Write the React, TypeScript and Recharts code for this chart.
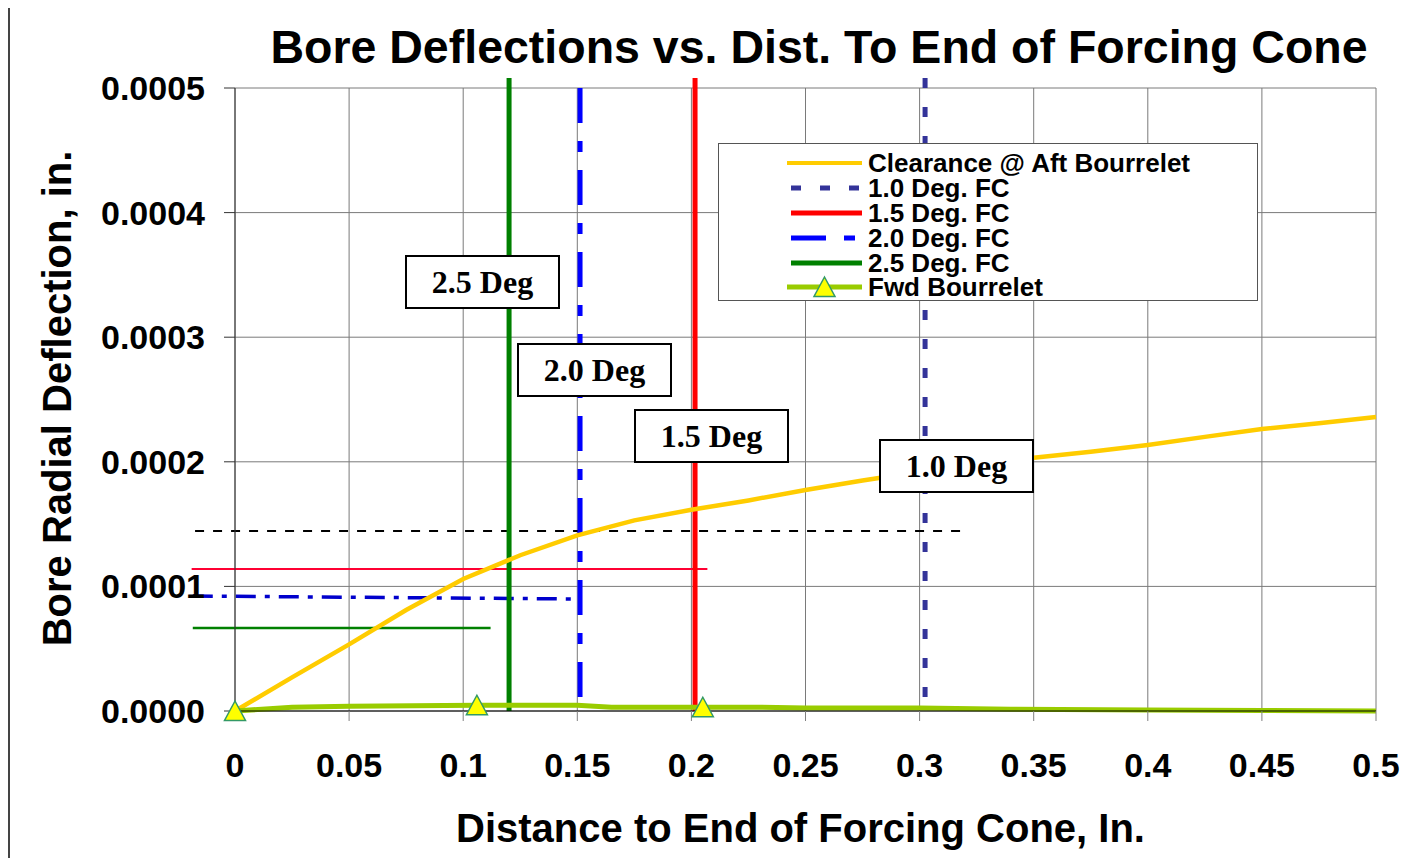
import { ComposedChart, Line, XAxis, YAxis, CartesianGrid, ReferenceLine, Legend } from 'recharts';

// axis ticks
const xTicks = [0, 0.05, 0.1, 0.15, 0.2, 0.25, 0.3, 0.35, 0.4, 0.45, 0.5];
const yTicks = [0, 0.0001, 0.0002, 0.0003, 0.0004, 0.0005];

// Clearance @ Aft Bourrelet
const aftX = [0, 0.025, 0.05, 0.075, 0.1, 0.125, 0.15, 0.175, 0.2, 0.225, 0.25, 0.275, 0.3, 0.325, 0.35, 0.375, 0.4, 0.425, 0.45, 0.475, 0.5];
const aftClearance = [0, 0.000027, 0.0000535, 0.000081, 0.000106, 0.000125, 0.000141, 0.000153, 0.0001615, 0.000169, 0.0001774, 0.000185, 0.000192, 0.000198, 0.0002033, 0.000208, 0.0002135, 0.00022, 0.0002263, 0.000231, 0.000236];

// Fwd Bourrelet
const fwdX = [0, 0.025, 0.05, 0.106, 0.15, 0.165, 0.205, 0.23, 0.25, 0.3, 0.34, 0.4, 0.45, 0.5];
const fwdBourrelet = [0, 0.000003, 0.0000038, 0.0000046, 0.0000046, 0.000003, 0.000003, 0.000003, 0.0000024, 0.0000024, 0.0000014, 0.0000008, 0.0000004, 0];
const fwdMarkerX = [0, 0.106, 0.205];

// forcing cone angle lines (vertical)
const fcAngles = ['1.0', '1.5', '2.0', '2.5'];
const fcX = [0.3024, 0.2016, 0.1512, 0.1201];
const fcTop = [0.000508, 0.000508, 0.0005, 0.000508];

// horizontal reference levels: clearance, 1.5, 2.0, 2.5
const levelStartX = [-0.0175, -0.019, -0.0185, -0.0185];
const levelEndX = [0.319, 0.207, 0.151, 0.112];
const levelStartY = [0.0001445, 0.000114, 0.0000923, 0.0000666];
const levelEndY = [0.0001445, 0.000114, 0.0000899, 0.0000666];

const fcStyle: Record<string, { stroke: string; dash?: string }> = {
  '1.0': { stroke: '#333399', dash: '10 19' },
  '1.5': { stroke: '#FF0000' },
  '2.0': { stroke: '#0000FF', dash: '35 18 11 18' },
  '2.5': { stroke: '#008000' },
};
const levelStyle = [
  { stroke: '#000000', width: 2, dash: '9 9' },
  { stroke: '#FF0033', width: 2 },
  { stroke: '#0000CC', width: 3.5, dash: '20 9 5 9' },
  { stroke: '#008000', width: 2.5 },
];

const degBoxes = [
  { text: '2.5 Deg', left: 397, top: 250 },
  { text: '2.0 Deg', left: 509, top: 338 },
  { text: '1.5 Deg', left: 626, top: 404 },
  { text: '1.0 Deg', left: 871, top: 434 },
];

const aftData = aftX.map((x, i) => ({ x, y: aftClearance[i] }));
const fwdData = fwdX.map((x, i) => ({ x, y: fwdBourrelet[i] }));

const SANS = '"Liberation Sans", Arial, sans-serif';
const SERIF = '"Liberation Serif", "Times New Roman", serif';

function triangle(cx: number, cy: number, key?: number) {
  return (
    <path
      key={key}
      d={`M${cx},${cy - 10} L${cx + 10.5},${cy + 9.5} L${cx - 10.5},${cy + 9.5} Z`}
      fill="#FFFF00"
      stroke="#339966"
      strokeWidth={1.5}
    />
  );
}

const fwdDot = (props: any) => {
  const { cx, cy, payload, index } = props;
  if (!fwdMarkerX.includes(payload.x)) return <g key={index} />;
  return triangle(cx, cy, index);
};

function LegendSample({ name }: { name: string }) {
  let line;
  if (name.startsWith('Clearance')) line = <line x1={0} x2={75} y1={12} y2={12} stroke="#FFCC00" strokeWidth={4} />;
  else if (name.startsWith('Fwd'))
    line = (
      <>
        <line x1={0} x2={75} y1={12} y2={12} stroke="#99CC00" strokeWidth={5} />
        {triangle(37.5, 12)}
      </>
    );
  else {
    const s = fcStyle[name.slice(0, 3)];
    line = <line x1={4} x2={75} y1={12} y2={12} stroke={s.stroke} strokeWidth={5} strokeDasharray={s.dash} />;
  }
  return (
    <svg width={76} height={24} style={{ overflow: 'visible' }}>
      {line}
    </svg>
  );
}

const legendNames = ['Clearance @ Aft Bourrelet', ...fcAngles.map((a) => `${a} Deg. FC`), 'Fwd Bourrelet'];

function LegendBox() {
  return (
    <div
      style={{
        boxSizing: 'border-box',
        width: 540,
        height: 158,
        border: '1.5px solid #555',
        background: '#fff',
        paddingTop: 7,
      }}
    >
      {legendNames.map((n) => (
        <div key={n} style={{ display: 'flex', alignItems: 'center', height: 24.8, paddingLeft: 68 }}>
          <LegendSample name={n} />
          <span
            style={{
              marginLeft: 5,
              fontFamily: SANS,
              fontWeight: 'bold',
              fontSize: 26,
              lineHeight: '24px',
              color: '#000',
              whiteSpace: 'nowrap',
            }}
          >
            {n}
          </span>
        </div>
      ))}
    </div>
  );
}

export default function App() {
  return (
    <div
      style={{
        position: 'relative',
        width: 1400,
        height: 853,
        marginTop: -3,
        overflow: 'hidden',
        background: '#fff',
      }}
    >
      <style>{'body{overflow:hidden}'}</style>
      <div
        style={{
          position: 'absolute',
          left: 0,
          top: 0,
          width: 1440,
          height: 900,
          borderLeft: '2px solid #444',
          borderTop: '2px solid #444',
        }}
      />
      <div style={{ position: 'absolute', left: 0, top: 0 }}>
        <ComposedChart width={1400} height={853} margin={{ top: 83, right: 32, left: 27, bottom: 87 }}>
          <CartesianGrid stroke="#7a7a7a" strokeWidth={1} />
          <XAxis
            dataKey="x"
            type="number"
            domain={[0, 0.5]}
            ticks={xTicks}
            tickFormatter={(v: number) => String(v)}
            stroke="#000"
            tickLine={{ stroke: '#808080' }}
            tickSize={10}
            tickMargin={32}
            height={60}
            tick={{ fontSize: 34, fontWeight: 'bold', fill: '#000', fontFamily: SANS }}
            label={{
              content: (p: any) => (
                <text
                  x={p.viewBox.x + p.viewBox.width / 2 - 5}
                  y={p.viewBox.y + 131}
                  textAnchor="middle"
                  fontFamily={SANS}
                  fontWeight="bold"
                  fontSize={40}
                  fill="#000"
                >
                  Distance to End of Forcing Cone, In.
                </text>
              ),
            }}
          />
          <YAxis
            type="number"
            domain={[0, 0.0005]}
            ticks={yTicks}
            tickFormatter={(v: number) => v.toFixed(4)}
            width={200}
            stroke="#333"
            tickSize={11}
            tickMargin={19}
            tick={{ fontSize: 34, fontWeight: 'bold', fill: '#000', fontFamily: SANS }}
            label={{
              content: (p: any) => {
                const cx = p.viewBox.x + 22;
                const cy = p.viewBox.y + p.viewBox.height / 2 - 1;
                return (
                  <text
                    x={cx}
                    y={cy}
                    transform={`rotate(-90, ${cx}, ${cy})`}
                    textAnchor="middle"
                    dominantBaseline="central"
                    fontFamily={SANS}
                    fontWeight="bold"
                    fontSize={40}
                    fill="#000"
                  >
                    Bore Radial Deflection, in.
                  </text>
                );
              },
            }}
          />
          <Legend
            layout="vertical"
            align="center"
            verticalAlign="middle"
            wrapperStyle={{ left: 710, top: 138, width: 540, height: 158 }}
            content={() => <LegendBox />}
          />
          {levelStartX.map((x0, i) => (
            <ReferenceLine
              key={`lvl${i}`}
              segment={[
                { x: x0, y: levelStartY[i] },
                { x: levelEndX[i], y: levelEndY[i] },
              ]}
              ifOverflow="visible"
              stroke={levelStyle[i].stroke}
              strokeWidth={levelStyle[i].width}
              strokeDasharray={levelStyle[i].dash}
            />
          ))}
          {fcAngles.map((a, i) => (
            <ReferenceLine
              key={`fc${a}`}
              segment={[
                { x: fcX[i], y: fcTop[i] },
                { x: fcX[i], y: 0 },
              ]}
              ifOverflow="visible"
              stroke={fcStyle[a].stroke}
              strokeWidth={5}
              strokeDasharray={fcStyle[a].dash}
            />
          ))}
          <Line
            data={aftData}
            dataKey="y"
            name="Clearance @ Aft Bourrelet"
            stroke="#FFCC00"
            strokeWidth={4.5}
            dot={false}
            activeDot={false}
            type="linear"
            isAnimationActive={false}
          />
          <Line
            data={fwdData}
            dataKey="y"
            name="Fwd Bourrelet"
            stroke="#99CC00"
            strokeWidth={5}
            dot={fwdDot}
            activeDot={false}
            type="linear"
            isAnimationActive={false}
          />
        </ComposedChart>
      </div>
      <div
        style={{
          position: 'absolute',
          left: 811,
          top: 19,
          transform: 'translateX(-50%)',
          whiteSpace: 'nowrap',
          fontFamily: SANS,
          fontWeight: 'bold',
          fontSize: 46.5,
          lineHeight: '46px',
          color: '#000',
        }}
      >
        Bore Deflections vs. Dist. To End of Forcing Cone
      </div>
      {degBoxes.map((b) => (
        <div
          key={b.text}
          style={{
            position: 'absolute',
            left: b.left,
            top: b.top,
            width: 155,
            height: 54,
            boxSizing: 'border-box',
            border: '2.5px solid #000',
            background: '#fff',
            display: 'flex',
            alignItems: 'center',
            justifyContent: 'center',
            fontFamily: SERIF,
            fontWeight: 'bold',
            fontSize: 32,
            color: '#000',
          }}
        >
          {b.text}
        </div>
      ))}
    </div>
  );
}
